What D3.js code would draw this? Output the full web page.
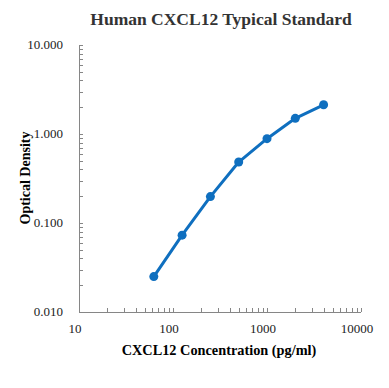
<!DOCTYPE html>
<html>
<head>
<meta charset="utf-8">
<script src="https://cdn.jsdelivr.net/npm/d3@7"></script>
<style>
  body { margin: 0; background: #fff; }
  text { font-family: "Liberation Serif", "Times New Roman", serif; fill: #000; }
</style>
</head>
<body>
<svg id="chart" width="389" height="388"></svg>
<script>
// standard curve
var concentration = [62.5, 125, 250, 500, 1000, 2000, 4000];
var opticalDensity = [0.025, 0.073, 0.198, 0.484, 0.886, 1.5, 2.13];
var xTicks = [10, 100, 1000, 10000];
var yTicks = [0.01, 0.1, 1, 10];

var svg = d3.select("#chart");
var plotLeft = 79, plotRight = 361, plotTop = 45, plotBottom = 312;

var x = d3.scaleLog().domain([10, 10000]).range([plotLeft, plotRight]);
var y = d3.scaleLog().domain([0.01, 10]).range([plotBottom, plotTop]);

// minor ticks for each decade
function minors(lo, hi) {
  var out = [];
  for (var d = lo; d < hi * 0.999; d *= 10) {
    for (var k = 1; k <= 10; k++) out.push(d * k);
  }
  return out;
}

var axisColor = "#868686";

var gy = svg.append("g");
gy.selectAll("line")
  .data(minors(0.01, 10))
  .enter()
  .append("line")
  .attr("x1", plotLeft)
  .attr("x2", plotLeft + 4)
  .attr("y1", d => Math.round(y(d)) + 0.5)
  .attr("y2", d => Math.round(y(d)) + 0.5)
  .attr("stroke", axisColor);
gy.append("line")
  .attr("x1", plotLeft + 0.5).attr("x2", plotLeft + 0.5)
  .attr("y1", plotTop).attr("y2", plotBottom)
  .attr("stroke", axisColor);

var gx = svg.append("g");
gx.selectAll("line")
  .data(minors(10, 10000))
  .enter()
  .append("line")
  .attr("x1", d => Math.round(x(d)) + 0.5)
  .attr("x2", d => Math.round(x(d)) + 0.5)
  .attr("y1", plotBottom)
  .attr("y2", plotBottom - 4)
  .attr("stroke", axisColor);
gx.append("line")
  .attr("x1", plotLeft).attr("x2", plotRight)
  .attr("y1", plotBottom + 0.5).attr("y2", plotBottom + 0.5)
  .attr("stroke", axisColor);

// tick labels
svg.selectAll("text.ylab")
  .data(yTicks)
  .enter()
  .append("text")
  .attr("class", "ylab")
  .attr("x", 63)
  .attr("y", d => y(d) + 4)
  .attr("text-anchor", "end")
  .attr("font-size", 13)
  .style("fill", "#222")
  .text(d => d3.format(".3f")(d));

svg.selectAll("text.xlab")
  .data(xTicks)
  .enter()
  .append("text")
  .attr("class", "xlab")
  .attr("x", d => x(d) - 4)
  .attr("y", 333)
  .attr("text-anchor", "middle")
  .attr("font-size", 13)
  .style("fill", "#222")
  .text(d => d);

// series
var blue = "#0f6fbf";
svg.append("path")
  .datum(concentration)
  .attr("fill", "none")
  .attr("stroke", blue)
  .attr("stroke-width", 3)
  .attr("stroke-linejoin", "round")
  .attr("d", d3.line()
    .x(d => x(d))
    .y((d, i) => y(opticalDensity[i])));

svg.selectAll("circle")
  .data(concentration)
  .enter()
  .append("circle")
  .attr("cx", d => x(d))
  .attr("cy", (d, i) => y(opticalDensity[i]))
  .attr("r", 4.5)
  .attr("fill", blue);

// titles
svg.append("text")
  .attr("x", 221)
  .attr("y", 25)
  .attr("text-anchor", "middle")
  .attr("font-size", 17.5)
  .attr("font-weight", "bold")
  .style("fill", "#333")
  .text("Human CXCL12 Typical Standard");

svg.append("text")
  .attr("x", 219)
  .attr("y", 355)
  .attr("text-anchor", "middle")
  .attr("font-size", 14.3)
  .attr("font-weight", "bold")
  .text("CXCL12 Concentration (pg/ml)");

svg.append("text")
  .attr("transform", "translate(30,178) rotate(-90)")
  .attr("text-anchor", "middle")
  .attr("font-size", 14)
  .attr("font-weight", "bold")
  .text("Optical Density");
</script>
</body>
</html>
